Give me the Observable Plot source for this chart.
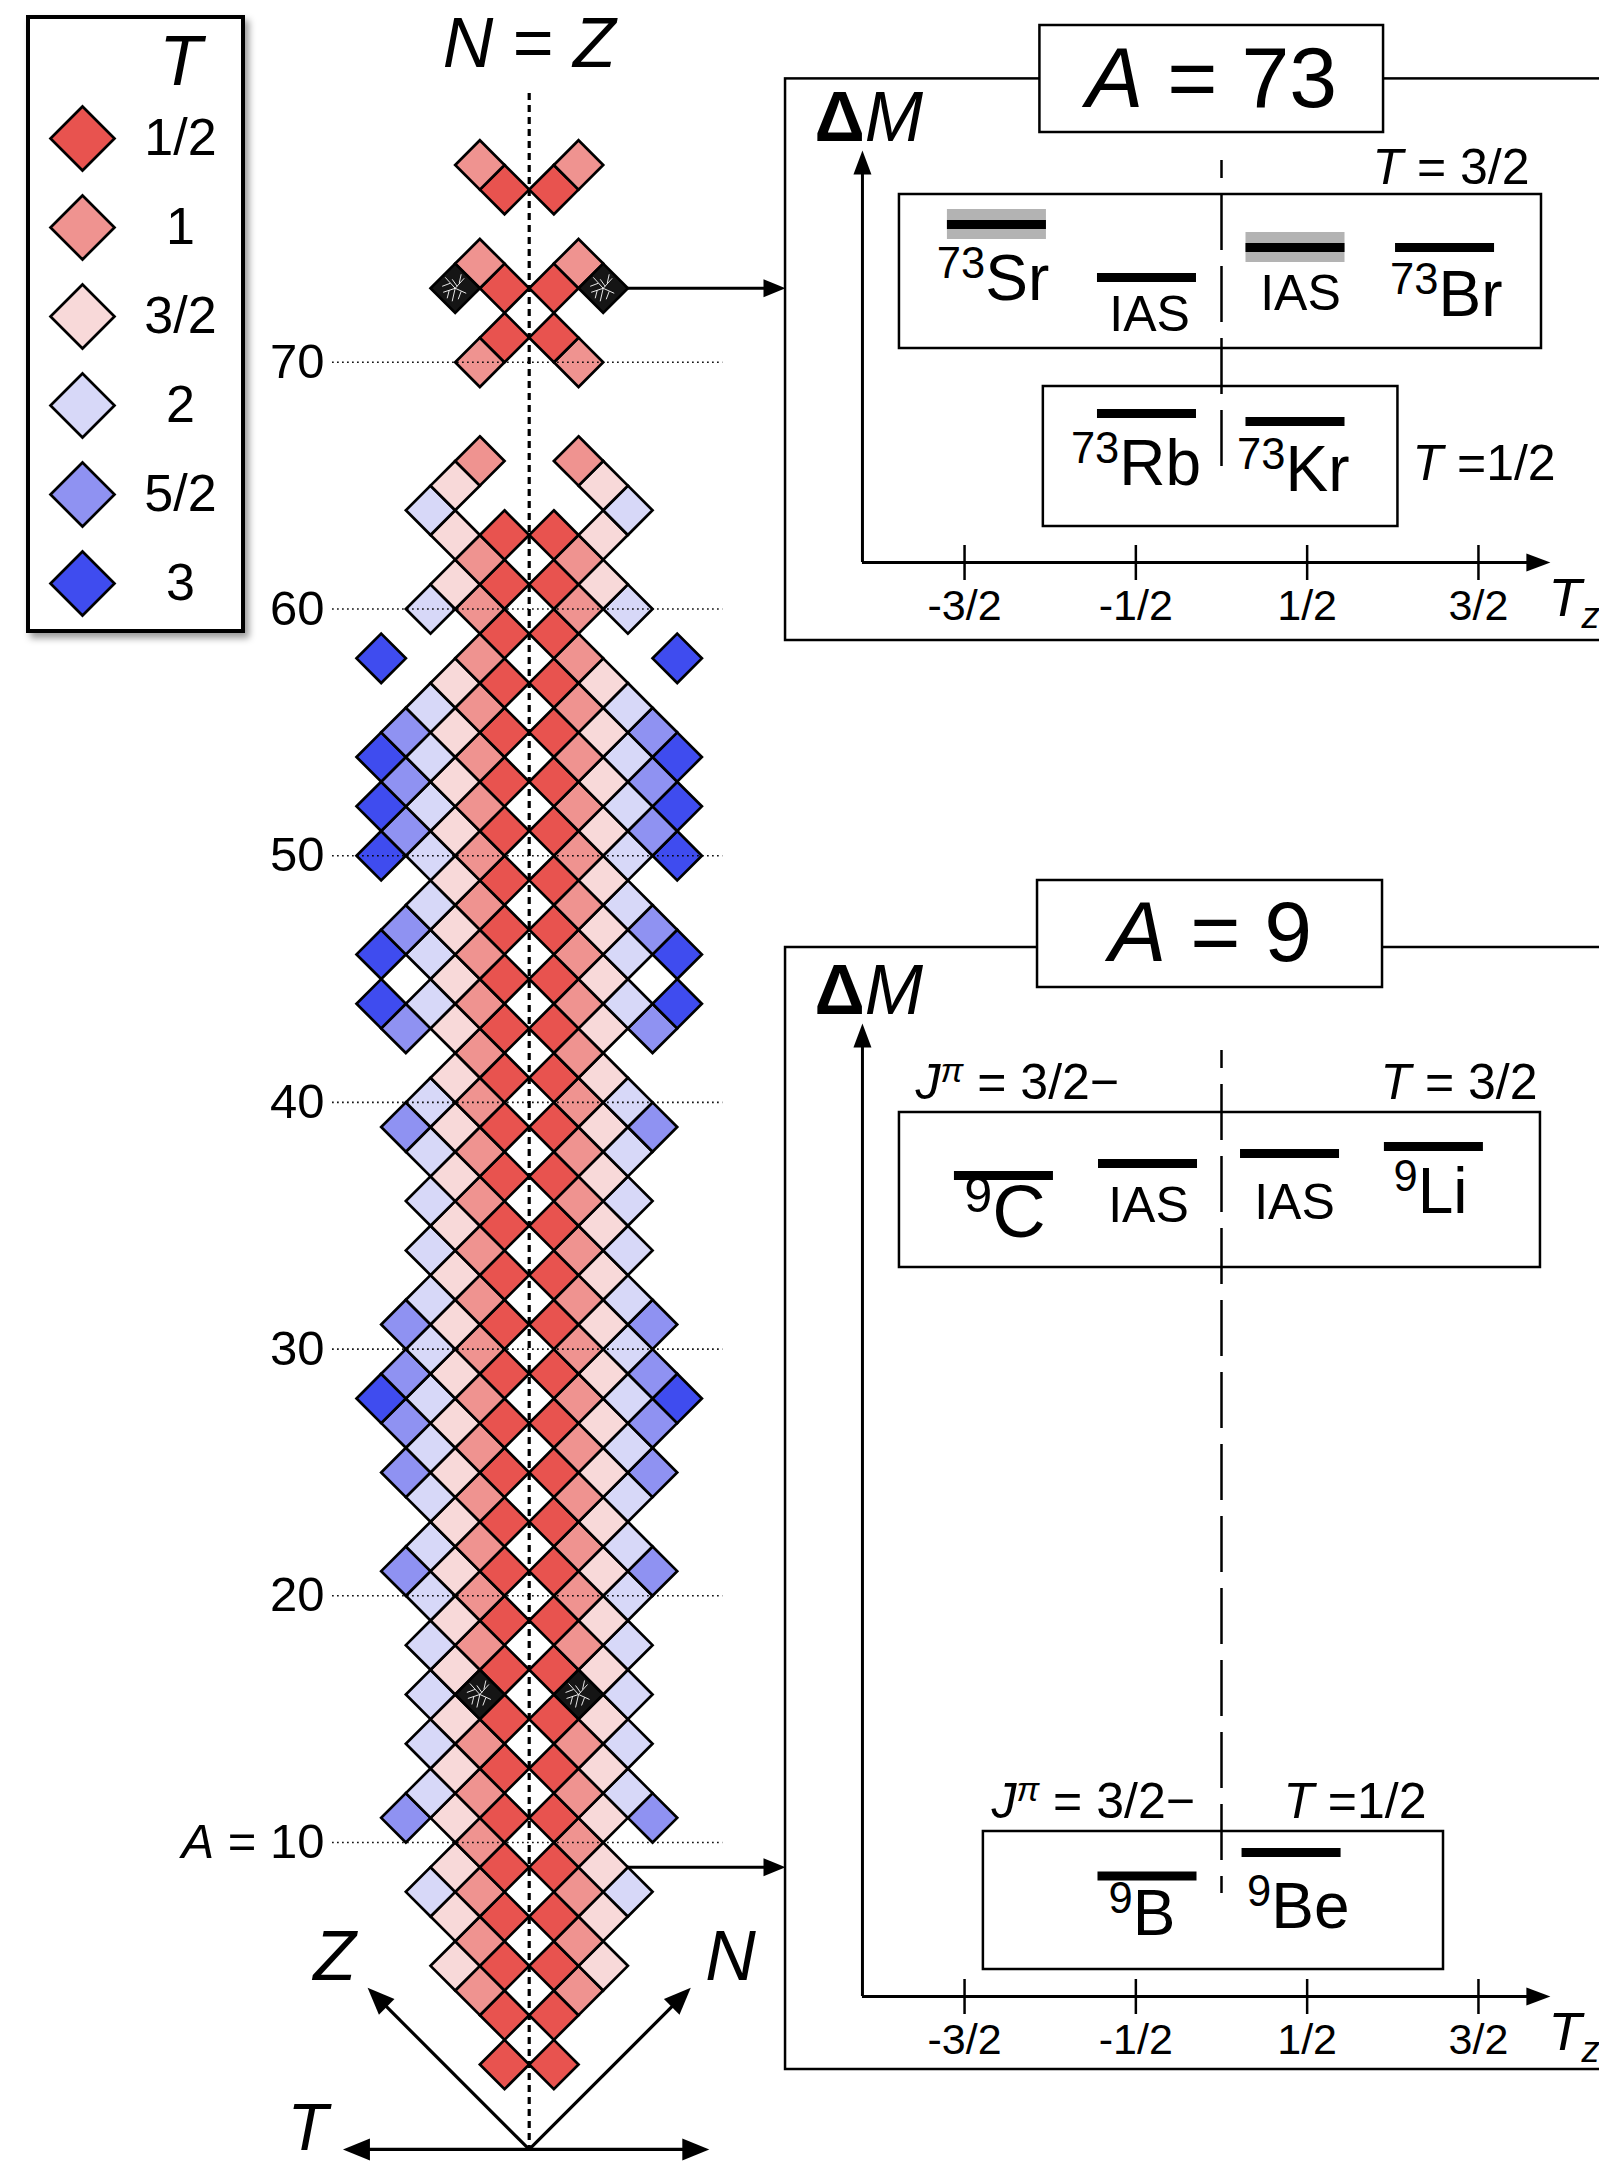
<!DOCTYPE html>
<html><head><meta charset="utf-8">
<script src="https://cdn.jsdelivr.net/npm/d3@7"></script>
<script src="https://cdn.jsdelivr.net/npm/@observablehq/plot@0.6"></script>
<style>
html,body{margin:0;padding:0;background:#fff;}
#page{position:relative;width:1599px;height:2167px;overflow:hidden;background:#fff;font-family:"Liberation Sans",Arial,Helvetica,sans-serif;}
#legend{position:absolute;left:26px;top:15px;width:211px;height:610px;border:4px solid #000;background:#fff;box-shadow:4px 5px 7px rgba(0,0,0,0.4);}
</style></head>
<body><div id="page"></div>
<script>
// ---------------- data ----------------
const massNumbers = [
  1, 3, 4, 5, 6, 7, 8, 9, 10, 11,
  12, 13, 14, 15, 16, 17, 18, 19, 20, 21,
  22, 23, 24, 25, 26, 27, 28, 29, 30, 31,
  32, 33, 34, 35, 36, 37, 38, 39, 40, 41,
  42, 43, 44, 45, 46, 47, 48, 49, 50, 51,
  52, 53, 54, 55, 56, 57, 58, 59, 60, 61,
  62, 63, 64, 65, 66, 70, 71, 73, 74, 77,
  78
];
// |N - Z| of the mirror pairs shown for each mass number
const nzMagnitudes = [
  [1],[1],[2],[1,3],[2],[1,3],[2,4],[1,3],[2],[1,3,5],
  [2,4],[1,3],[2,4],[1,3],[2,4],[1,3],[2,4],[1,3],[2,4],[1,3,5],
  [2,4],[1,3],[2,4],[1,3,5],[2,4],[1,3,5],[2,4,6],[1,3,5],[2,4],[1,3,5],
  [2,4],[1,3],[2,4],[1,3],[2,4],[1,3],[2,4],[1,3,5],[2,4],[1,3],
  [2],[1,3,5],[2,4,6],[1,3],[2,4,6],[1,3,5],[2,4],[1,3],[2,4,6],[1,3,5],
  [2,4,6],[1,3,5],[2,4,6],[1,3,5],[2,4],[1,3],[2,6],[1],[2,4],[1,3],
  [2],[1,3],[4],[3],[2],[2],[1],[1,3],[2],[1],
  [2]
];
const specialA = [16, 73];
const specialNZ = [2, 3];
const linkedA = [73, 9];
const linkedNZ = [3, 3];

const isospinLabels = ["1/2", "1", "3/2", "2", "5/2", "3"];
const isospinValues = [0.5, 1, 1.5, 2, 2.5, 3];
const isospinColors = ["#e8534f", "#ef9390", "#f8d9d9", "#d7d8f8", "#8f92f2", "#3f4cef"];

const gridA = [10, 20, 30, 40, 50, 60, 70];
const gridLabels = ["*A* = 10", "20", "30", "40", "50", "60", "70"];

const tzTicks = [-1.5, -0.5, 0.5, 1.5];
const tzTickLabels = ["-3/2", "-1/2", "1/2", "3/2"];

// A = 73 panel (Tz, schematic ΔM)
const levels73 = [
  {tz: -1.311, m: 8.45, band: true}, {tz: -0.435, m: 7.125, band: false},
  {tz: 0.432, m: 7.875, band: true}, {tz: 1.305, m: 7.875, band: false},
  {tz: -0.435, m: 3.725, band: false}, {tz: 0.432, m: 3.525, band: false}
];
const labels73 = [
  {tz: -1.334, m: 7.075, text: "^73^Sr", size: 64}, {tz: -0.42, m: 6.2, text: "IAS", size: 50},
  {tz: 0.461, m: 6.725, text: "IAS", size: 50}, {tz: 1.312, m: 6.675, text: "^73^Br", size: 64},
  {tz: -0.499, m: 2.45, text: "^73^Rb", size: 64}, {tz: 0.419, m: 2.3, text: "^73^Kr", size: 64}
];
const notes73 = [
  {tz: 1.798, m: 9.86, text: "*T* = 3/2", anchor: "end"},
  {tz: 1.115, m: 2.475, text: "*T* =1/2", anchor: "start"}
];
const boxes73 = [{tz1: -1.88, tz2: 1.868, m1: 5.35, m2: 9.2}, {tz1: -1.04, tz2: 1.03, m1: 0.9, m2: 4.4}];

// A = 9 panel
const levels9 = [
  {tz: -1.27, m: 20.525, band: false}, {tz: -0.429, m: 20.825, band: false},
  {tz: 0.40, m: 21.075, band: false}, {tz: 1.24, m: 21.25, band: false},
  {tz: -0.432, m: 3.01, band: false}, {tz: 0.409, m: 3.6, band: false}
];
const labels9 = [
  {tz: -1.264, m: 19.575, text: "^9^C", size: 74}, {tz: -0.426, m: 19.775, text: "IAS", size: 50},
  {tz: 0.426, m: 19.85, text: "IAS", size: 50}, {tz: 1.22, m: 20.1, text: "^9^Li", size: 64},
  {tz: -0.464, m: 2.05, text: "^9^B", size: 64}, {tz: 0.448, m: 2.225, text: "^9^Be", size: 64}
];
const notes9 = [
  {tz: -1.786, m: 22.85, text: "*J*~π~ = 3/2−", anchor: "start"},
  {tz: 1.845, m: 22.85, text: "*T* = 3/2", anchor: "end"},
  {tz: -1.343, m: 4.875, text: "*J*~π~ = 3/2−", anchor: "start"},
  {tz: 1.197, m: 4.875, text: "*T* =1/2", anchor: "end"}
];
const boxes9 = [{tz1: -1.88, tz2: 1.862, m1: 18.225, m2: 22.1}, {tz1: -1.39, tz2: 1.296, m1: 0.675, m2: 4.125}];

// ---------------- helpers ----------------
const FONT = '"Liberation Sans", Arial, Helvetica, sans-serif';
const W = 1599, H = 2167, PX = 24.67, X0 = 528.7, Y10 = 1842;

const diamond = h => ({draw(ctx) { ctx.moveTo(0, -h); ctx.lineTo(h, 0); ctx.lineTo(0, h); ctx.lineTo(-h, 0); ctx.closePath(); }});
const arrowHead = (len, hw, deg) => ({draw(ctx) {
  const a = deg * Math.PI / 180, c = Math.cos(a), s = Math.sin(a);
  const pts = [[0, 0], [hw, len], [-hw, len]].map(([x, y]) => [x * c - y * s, x * s + y * c]);
  ctx.moveTo(...pts[0]); ctx.lineTo(...pts[1]); ctx.lineTo(...pts[2]); ctx.closePath();
}});
const crack = {draw(ctx) {
  const segs = [[0,0,-10,-11],[0,0,9,-10],[0,0,11,5],[0,0,-3,13],[0,0,-12,4],[-5,-5,-13,-2],[4,-5,6,-14],[6,3,3,11],[-6,2,-8,10],[2,-2,-3,-9]];
  for (const [a, b, c, d] of segs) { ctx.moveTo(a, b); ctx.lineTo(c, d); }
}};

function richify(root) {
  d3.select(root).selectAll("text").each(function () {
    const raw = this.textContent;
    if (!/[*^~_!]/.test(raw)) return;
    const fs = parseFloat(getComputedStyle(this).fontSize);
    let base = 0;
    const dyAttr = this.getAttribute("dy");
    if (dyAttr) { base = dyAttr.endsWith("em") ? parseFloat(dyAttr) * fs : parseFloat(dyAttr); this.removeAttribute("dy"); }
    const parts = raw.split(/(\*[^*]+\*|\^[^^]+\^|~[^~]+~|_[^_]+_|![^!]+!)/).filter(s => s);
    this.textContent = "";
    let shift = 0, first = true;
    for (const p of parts) {
      const d = p.length > 1 && p[0] === p[p.length - 1] && "*^~_!".includes(p[0]) ? p[0] : null;
      const txt = d ? p.slice(1, -1) : p;
      let target = 0;
      const ts = d3.select(this).append("tspan").text(txt);
      if (d === "*") ts.style("font-style", "italic");
      if (d === "!") ts.style("font-weight", "bold");
      if (d === "^" || d === "~") { target = -0.34 * fs; ts.style("font-size", (0.68 * fs) + "px"); }
      if (d === "~") ts.style("font-style", "italic");
      if (d === "_") { target = 0.22 * fs; ts.style("font-size", (0.68 * fs) + "px").style("font-style", "italic"); }
      const dy = target - shift + (first ? base : 0);
      if (dy !== 0 || first) ts.attr("dy", dy);
      shift = target; first = false;
    }
  });
}

function addShadow(svg, id, label, dx, dy, sd, op) {
  let defs = d3.select(svg).select("defs");
  if (defs.empty()) defs = d3.select(svg).insert("defs", ":first-child");
  defs.append("filter").attr("id", id).attr("x", "-20%").attr("y", "-20%").attr("width", "150%").attr("height", "150%")
    .append("feDropShadow").attr("dx", dx).attr("dy", dy).attr("stdDeviation", sd)
    .attr("flood-color", "#000").attr("flood-opacity", op);
  d3.select(svg).selectAll(`g[aria-label="${label}"]`).attr("filter", `url(#${id})`);
}

// ---------------- main chart ----------------
const nuclides = massNumbers.flatMap((A, i) => nzMagnitudes[i].flatMap(k => [-k, k].map(nz => ({
  A, nz, T: k / 2, special: specialA.some((a, j) => a === A && specialNZ[j] === k)
}))));

const origin = {nz: 0, A: -2.44};
const axisLen = 6.55;
const zTip = {nz: -axisLen, A: origin.A + axisLen};
const nTip = {nz: axisLen, A: origin.A + axisLen};
const tLeft = {nz: -7.55, A: origin.A}, tRight = {nz: 7.3, A: origin.A};
const shorten = (from, to, px) => {
  const dx = to.nz - from.nz, dy = to.A - from.A, L = Math.hypot(dx, dy), s = (px / PX) / L;
  return {nz: to.nz - dx * s, A: to.A - dy * s};
};
const panelNZ = (785 - X0) / PX;

const axisLines = [
  {a: origin, b: shorten(origin, zTip, 14)},
  {a: origin, b: shorten(origin, nTip, 14)},
  {a: shorten(tRight, tLeft, 14), b: shorten(tLeft, tRight, 14)}
];
const axisNames = [
  {t: "*Z*", nz: -7.89, A: 5.34, size: 70}, {t: "*N*", nz: 8.16, A: 5.34, size: 70}, {t: "*T*", nz: -8.98, A: -1.6, size: 66}
];

const main = Plot.plot({
  width: W, height: H, margin: 0,
  x: {domain: [-X0 / PX, (W - X0) / PX], range: [0, W], axis: null},
  y: {domain: [10 - (H - Y10) / PX, 10 + Y10 / PX], range: [H, 0], axis: null},
  color: {type: "ordinal", domain: isospinValues, range: isospinColors},
  style: {background: "transparent", fontFamily: FONT, overflow: "visible"},
  marks: [
    Plot.dot(nuclides.filter(d => !d.special), {x: "nz", y: "A", fill: "T", symbol: diamond(PX), stroke: "black", strokeWidth: 2.7}),
    Plot.dot(nuclides.filter(d => d.special), {x: "nz", y: "A", fill: "#151515", symbol: diamond(PX), stroke: "black", strokeWidth: 2.7}),
    Plot.dot(nuclides.filter(d => d.special), {x: "nz", y: "A", fill: "none", symbol: crack, stroke: "white", strokeWidth: 0.9}),
    Plot.ruleY(gridA, {y: d => d, x1: -7.97, x2: 7.85, stroke: "black", strokeWidth: 1.6, strokeDasharray: "1.6,3.4"}),
    Plot.ruleX([0], {y1: 80.9, y2: origin.A, stroke: "black", strokeWidth: 3.2, strokeDasharray: "7,5"}),
    Plot.text(gridA, {x: -8.3, y: d => d, text: (d, i) => gridLabels[i], textAnchor: "end", fontSize: 49, fill: "black"}),
    Plot.text(["*N* = *Z*"], {x: 0, y: 82.88, text: d => d, fontSize: 70, fill: "black"}),
    // arrows to the panels
    Plot.link(linkedA, {x1: (d, i) => linkedNZ[i] + 1, y1: d => d, x2: panelNZ - 12 / PX, y2: d => d, stroke: "black", strokeWidth: 3}),
    Plot.dot(linkedA, {x: () => panelNZ, y: d => d, symbol: arrowHead(22, 9, 90), fill: "black", stroke: "none"}),
    // axes at the bottom
    Plot.link(axisLines, {x1: d => d.a.nz, y1: d => d.a.A, x2: d => d.b.nz, y2: d => d.b.A, stroke: "black", strokeWidth: 3.2}),
    Plot.dot([zTip], {x: "nz", y: "A", symbol: arrowHead(27, 11, -45), fill: "black", stroke: "none"}),
    Plot.dot([nTip], {x: "nz", y: "A", symbol: arrowHead(27, 11, 45), fill: "black", stroke: "none"}),
    Plot.dot([tLeft], {x: "nz", y: "A", symbol: arrowHead(27, 11, -90), fill: "black", stroke: "none"}),
    Plot.dot([tRight], {x: "nz", y: "A", symbol: arrowHead(27, 11, 90), fill: "black", stroke: "none"}),
    Plot.text(axisNames, {x: "nz", y: "A", text: "t", fontSize: d => d.size, fill: "black"})
  ]
});

// ---------------- legend ----------------
const legendPlot = Plot.plot({
  width: 211, height: 610, margin: 0,
  x: {type: "point", domain: ["swatch", "label"], range: [52, 150], padding: 0, axis: null},
  y: {type: "point", domain: ["header", ...isospinLabels], range: [30, 564], padding: 0, axis: null},
  color: {type: "ordinal", domain: isospinLabels, range: isospinColors},
  style: {background: "transparent", fontFamily: FONT},
  marks: [
    Plot.dot(isospinLabels, {x: () => "swatch", y: d => d, fill: d => d, symbol: diamond(32), stroke: "black", strokeWidth: 2.7}),
    Plot.text(isospinLabels, {x: () => "label", y: d => d, text: d => d, fontSize: 52, fill: "black"}),
    Plot.text(["*T*"], {x: () => "label", y: () => "header", text: d => d, dy: 13, fontSize: 70, fill: "black"})
  ]
});

// ---------------- panels ----------------
const PW = 819, TZPX = 171.3, TZ0 = 441, MPX = 40, AXIS_TZ = -2.096;

function panelPlot(p) {
  const hw = 0.289, bandHalf = 0.375;
  const xTip = 1.92;
  return Plot.plot({
    width: PW, height: p.height, margin: 0,
    x: {domain: [-TZ0 / TZPX, (PW - TZ0) / TZPX], range: [0, PW], axis: null},
    y: {domain: [-(p.height - p.zeroY) / MPX, p.zeroY / MPX], range: [p.height, 0], axis: null},
    style: {background: "transparent", fontFamily: FONT, overflow: "visible"},
    marks: [
      Plot.rect([p.frame], {x1: "tz1", x2: "tz2", y1: "m1", y2: "m2", fill: "white", stroke: "black", strokeWidth: 2.5, ariaLabel: "soft-shadow"}),
      Plot.rect(p.boxes, {x1: "tz1", x2: "tz2", y1: "m1", y2: "m2", fill: "none", stroke: "black", strokeWidth: 2.5}),
      Plot.ruleX([0], {y1: p.dash[1], y2: p.dash[0], stroke: "black", strokeWidth: 2.5, strokeDasharray: "56,16", strokeDashoffset: 38}),
      Plot.rect(p.levels.filter(d => d.band), {x1: d => d.tz - hw, x2: d => d.tz + hw, y1: d => d.m - bandHalf, y2: d => d.m + bandHalf, fill: "#b3b3b3"}),
      Plot.ruleY(p.levels, {y: "m", x1: d => d.tz - hw, x2: d => d.tz + hw, stroke: "black", strokeWidth: 9}),
      Plot.text(p.labels, {x: "tz", y: "m", text: "text", fontSize: d => d.size, fill: "black"}),
      Plot.text(p.notes.filter(d => d.anchor === "start"), {x: "tz", y: "m", text: "text", textAnchor: "start", fontSize: 50, fill: "black"}),
      Plot.text(p.notes.filter(d => d.anchor === "end"), {x: "tz", y: "m", text: "text", textAnchor: "end", fontSize: 50, fill: "black"}),
      // axes
      Plot.ruleY([0], {x1: AXIS_TZ, x2: xTip - 12 / TZPX, stroke: "black", strokeWidth: 3}),
      Plot.ruleX([AXIS_TZ], {y1: 0, y2: p.yTip - 12 / MPX, stroke: "black", strokeWidth: 3}),
      Plot.dot([xTip], {x: d => d, y: 0, symbol: arrowHead(24, 9, 90), fill: "black", stroke: "none"}),
      Plot.dot([p.yTip], {x: AXIS_TZ, y: d => d, symbol: arrowHead(24, 9, 0), fill: "black", stroke: "none"}),
      Plot.ruleX(tzTicks, {x: d => d, y1: -0.45, y2: 0.425, stroke: "black", strokeWidth: 2.5}),
      Plot.text(tzTicks, {x: d => d, y: -1.1, text: (d, i) => tzTickLabels[i], fontSize: 43, fill: "black"}),
      Plot.text(["*T*_z_"], {x: 1.909, y: -0.9, text: d => d, textAnchor: "start", fontSize: 54, fill: "black"}),
      Plot.text(["!Δ!*M*"], {x: -2.376, y: p.dmY, text: d => d, textAnchor: "start", fontSize: 70, fill: "black"}),
      // title box
      Plot.rect([p.title], {x1: "tz1", x2: "tz2", y1: "m1", y2: "m2", fill: "white", stroke: "black", strokeWidth: 2.5, ariaLabel: "hard-shadow"}),
      Plot.text([p.title], {x: "tz", y: "m", text: "text", fontSize: 86, fill: "black"})
    ]
  });
}

const panel73 = panelPlot({
  height: 635, zeroY: 547,
  frame: {tz1: -2.545, tz2: 2.6, m1: -1.95, m2: 12.09},
  title: {tz1: -1.06, tz2: 0.946, m1: 10.75, m2: 13.425, text: "*A* = 73", tz: -0.058, m: 12.08},
  boxes: boxes73, levels: levels73, labels: labels73, notes: notes73,
  dash: [2.325, 10.05], yTip: 10.3, dmY: 11.1
});
const panel9 = panelPlot({
  height: 1210, zeroY: 1126,
  frame: {tz1: -2.545, tz2: 2.6, m1: -1.825, m2: 26.225},
  title: {tz1: -1.074, tz2: 0.94, m1: 25.225, m2: 27.9, text: "*A* = 9", tz: -0.064, m: 26.575},
  boxes: boxes9, levels: levels9, labels: labels9, notes: notes9,
  dash: [2.575, 23.65], yTip: 24.325, dmY: 25.125
});

// ---------------- assemble ----------------
const page = document.getElementById("page");
const place = (el, left, top) => { el.style.position = "absolute"; el.style.left = left + "px"; el.style.top = top + "px"; el.style.maxWidth = "none"; page.appendChild(el); };
place(main, 0, 0);
const legendDiv = document.createElement("div");
legendDiv.id = "legend";
legendDiv.appendChild(legendPlot);
page.appendChild(legendDiv);
place(panel73, 780, 15);
place(panel9, 780, 870);

for (const svg of [main, legendPlot, panel73, panel9]) richify(svg);
addShadow(panel73, "s73a", "soft-shadow", 3, 4, 3, 0.35);
addShadow(panel73, "s73b", "hard-shadow", 4, 5, 3, 0.5);
addShadow(panel9, "s9a", "soft-shadow", 3, 4, 3, 0.35);
addShadow(panel9, "s9b", "hard-shadow", 4, 5, 3, 0.5);
</script>
</body></html>
